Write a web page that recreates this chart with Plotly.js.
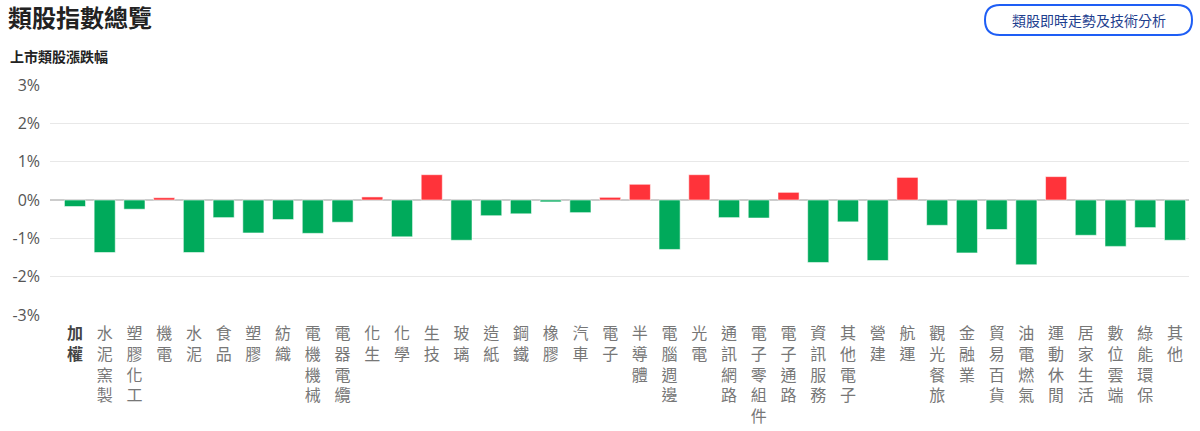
<!DOCTYPE html>
<html>
<head>
<meta charset="utf-8">
<script src="https://cdn.plot.ly/plotly-3.0.1.min.js"></script>
<style>
html,body{margin:0;padding:0;background:#fff;}
#chart{width:1200px;height:431px;}
</style>
</head>
<body>
<div id="chart"></div>
<script>
const categories = ["加權","水泥窯製","塑膠化工","機電","水泥","食品","塑膠","紡織","電機機械","電器電纜","化生","化學","生技","玻璃","造紙","鋼鐵","橡膠","汽車","電子","半導體","電腦週邊","光電","通訊網路","電子零組件","電子通路","資訊服務","其他電子","營建","航運","觀光餐旅","金融業","貿易百貨","油電燃氣","運動休閒","居家生活","數位雲端","綠能環保","其他"];
const changes = [-0.17,-1.37,-0.24,0.06,-1.37,-0.46,-0.86,-0.51,-0.87,-0.58,0.08,-0.96,0.66,-1.05,-0.41,-0.36,-0.05,-0.33,0.07,0.41,-1.29,0.66,-0.46,-0.47,0.20,-1.63,-0.57,-1.58,0.59,-0.66,-1.38,-0.77,-1.69,0.61,-0.92,-1.21,-0.72,-1.05];
const yTicks = [-3,-2,-1,0,1,2,3];
const yTickLabels = ["-3%","-2%","-1%","0%","1%","2%","3%"];
const titleText = "類股指數總覽";
const subtitleText = "上市類股漲跌幅";
const buttonText = "類股即時走勢及技術分析";

const UP = "#ff333a", DOWN = "#00aa5b";
const W = 1200, H = 431;
const M = {l:50, r:11, t:85, b:116};
const PW = W - M.l - M.r, PH = H - M.t - M.b;
const px = x => (x - M.l) / PW;
const py = y => (H - M.b - y) / PH;

const ticktext = categories.map((c, i) => {
  const chars = Array.from(c);
  if (i === 0) return chars.map(ch => '<b><span style="color:#444">' + ch + '</span></b>').join('<br>');
  return chars.join('<br>');
});

const trace = {
  type: 'bar',
  x: categories.map((c, i) => i),
  y: changes,
  marker: {
    color: changes.map(v => v >= 0 ? UP : DOWN),
    line: {color: 'rgba(255,255,255,0.55)', width: 1}
  },
  hoverinfo: 'none'
};

// button rounded rect (pill)
const bx0 = px(985), bx1 = px(1192), by0 = py(35), by1 = py(5);
const rx = 15 / PW, ry = 15 / PH;
const btnPath = `M ${bx0+rx},${by1} L ${bx1-rx},${by1} Q ${bx1},${by1} ${bx1},${by1-ry} L ${bx1},${by0+ry} Q ${bx1},${by0} ${bx1-rx},${by0} L ${bx0+rx},${by0} Q ${bx0},${by0} ${bx0},${by0+ry} L ${bx0},${by1-ry} Q ${bx0},${by1} ${bx0+rx},${by1} Z`;

const layout = {
  width: W, height: H,
  margin: M,
  paper_bgcolor: '#fff', plot_bgcolor: '#fff',
  showlegend: false,
  bargap: 0.29,
  font: {family: '"Noto Sans CJK TC", "Open Sans", sans-serif', color: '#222'},
  title: {
    text: titleText,
    xref: 'container', yref: 'container',
    x: 8 / W, xanchor: 'left',
    y: 1 - 19 / H, yanchor: 'middle',
    font: {family: '"Noto Sans CJK TC", sans-serif', size: 24, color: '#222', weight: 600}
  },
  xaxis: {
    range: [-0.84, 37.47],
    tickmode: 'array',
    tickvals: categories.map((c, i) => i),
    ticktext: ticktext,
    tickangle: 0,
    showgrid: false, zeroline: false, showline: false,
    ticks: '',
    ticklabelstandoff: 7,
    tickfont: {family: '"Noto Sans CJK TC", sans-serif', size: 16, color: '#777'},
    fixedrange: true
  },
  yaxis: {
    range: [-3, 3],
    tickmode: 'array',
    tickvals: yTicks,
    ticktext: yTickLabels,
    showgrid: true, gridcolor: '#e8e8e8', gridwidth: 1,
    zeroline: true, zerolinecolor: '#cccccc', zerolinewidth: 1.5,
    showline: false, ticks: '',
    ticklabelstandoff: 9,
    tickfont: {family: '"Open Sans", sans-serif', size: 16, color: '#555'},
    fixedrange: true
  },
  shapes: [{
    type: 'path', xref: 'paper', yref: 'paper',
    path: btnPath,
    line: {color: '#1e5ef5', width: 2},
    fillcolor: '#ffffff'
  }],
  annotations: [
    {
      text: subtitleText, xref: 'paper', yref: 'paper',
      x: px(8), xanchor: 'left', y: py(56), yanchor: 'middle',
      showarrow: false,
      font: {family: '"Noto Sans CJK TC", sans-serif', size: 14, color: '#222', weight: 600}
    },
    {
      text: buttonText, xref: 'paper', yref: 'paper',
      x: px(1088.5), xanchor: 'center', y: py(20), yanchor: 'middle',
      showarrow: false,
      font: {family: '"Noto Sans CJK TC", sans-serif', size: 14, color: '#1f3f8f'}
    }
  ]
};

Plotly.newPlot('chart', [trace], layout, {displayModeBar: false, staticPlot: true});
</script>
</body>
</html>
